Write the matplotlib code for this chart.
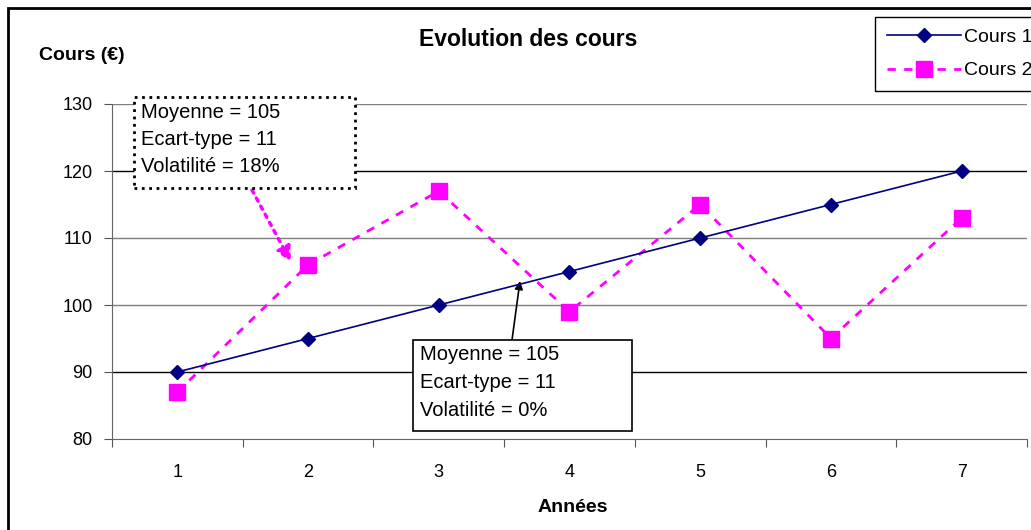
import numpy as np
import matplotlib.pyplot as plt
from matplotlib.patches import Rectangle

plt.rcParams['font.family'] = ['Liberation Sans', 'DejaVu Sans']

annees = [1, 2, 3, 4, 5, 6, 7]
cours1 = [90, 95, 100, 105, 110, 115, 120]
cours2 = [87, 106, 117, 99, 115, 95, 113]
yticks = [80, 90, 100, 110, 120, 130]
texte_c2 = ["Moyenne = 105", "Ecart-type = 11", "Volatilité = 18%"]
texte_c1 = ["Moyenne = 105", "Ecart-type = 11", "Volatilité = 0%"]

W, H = 1031, 530
fig = plt.figure(figsize=(W/100, H/100), dpi=100)
ax = fig.add_axes([112/W, 1-439/H, 915/W, 335/H])

def fp(x, y):
    # pixel coordinates measured from the top-left corner
    return (x, H - y)

# outer chart frame
fig.patches.append(Rectangle((8/W, -0.1), 1.2, 1 - 8/H + 0.1, transform=fig.transFigure,
                             fill=False, ec='black', lw=2, zorder=0))

for v in yticks[1:]:
    c = 'black' if v in (90, 120) else '#7f7f7f'
    ax.axhline(v, color=c, lw=1, zorder=1)

ax.plot(annees, cours1, color='#000080', lw=1.2, marker='D', ms=7, zorder=4, label='Cours 1')
ax.plot(annees, cours2, color='#ff00ff', lw=2, ls=(0, (3, 3)), marker='s', ms=11,
        zorder=3, label='Cours 2')

ax.set_xlim(0.5, 7.5)
ax.set_ylim(80, 130)
ax.set_yticks(yticks)
ax.set_xticks(np.arange(0.5, 8, 1))
ax.set_xticklabels([])
ax.set_xticks(annees, minor=True)
ax.set_xticklabels([str(a) for a in annees], minor=True)
ax.tick_params(axis='x', which='major', direction='out', length=6, color='#555555')
ax.tick_params(axis='x', which='minor', length=0, pad=18, labelsize=13)
ax.tick_params(axis='y', direction='out', length=6, color='#555555', pad=8, labelsize=13)
for s in ['top', 'right']:
    ax.spines[s].set_visible(False)
for s in ['left', 'bottom']:
    ax.spines[s].set_color('#666666')
ax.set_facecolor('none')

fig.text(528/W, 1-40/H, 'Evolution des cours', ha='center', va='center',
         fontsize=16.5, fontweight='bold')
fig.text(82/W, 1-55/H, 'Cours (€)', ha='center', va='center', fontsize=14, fontweight='bold')
fig.text(573/W, 1-507/H, 'Années', ha='center', va='center', fontsize=14, fontweight='bold')

leg = fig.legend(loc='upper left', bbox_to_anchor=(875/W, 1-17/H), fontsize=14,
                 frameon=True, fancybox=False, edgecolor='black', framealpha=1,
                 handlelength=3.8, handletextpad=0.2, borderaxespad=0,
                 borderpad=0.6, labelspacing=0.8)
leg.get_frame().set_linewidth(1)

# annotation boxes
def boite(x0, y0, x1, y1, lignes, ls):
    fig.patches.append(Rectangle((x0/W, 1-y1/H), (x1-x0)/W, (y1-y0)/H,
                                 transform=fig.transFigure, fc='white', ec='black',
                                 lw=2 if ls == ':' else 1.2, ls=ls, zorder=5))
    for i, t in enumerate(lignes):
        fig.text((x0+7)/W, 1-(y0+15+i*27.5)/H, t, ha='left', va='center',
                 fontsize=14.5, zorder=6)

boite(134, 97, 355, 188, texte_c2, ':')
boite(413, 340, 632, 431, texte_c1, '-')

ax.annotate('', xy=fp(291, 262), xycoords='figure pixels', xytext=fp(252, 190),
            textcoords='figure pixels',
            arrowprops=dict(arrowstyle='-|>', color='#ff00ff', lw=2.5, ls=':',
                            mutation_scale=22, shrinkA=0, shrinkB=0))
ax.annotate('', xy=fp(520, 281), xycoords='figure pixels', xytext=fp(512, 340),
            textcoords='figure pixels',
            arrowprops=dict(arrowstyle='-|>', color='black', lw=1.2,
                            mutation_scale=12, shrinkA=0, shrinkB=0))

fig.savefig('out.png', dpi=100)
